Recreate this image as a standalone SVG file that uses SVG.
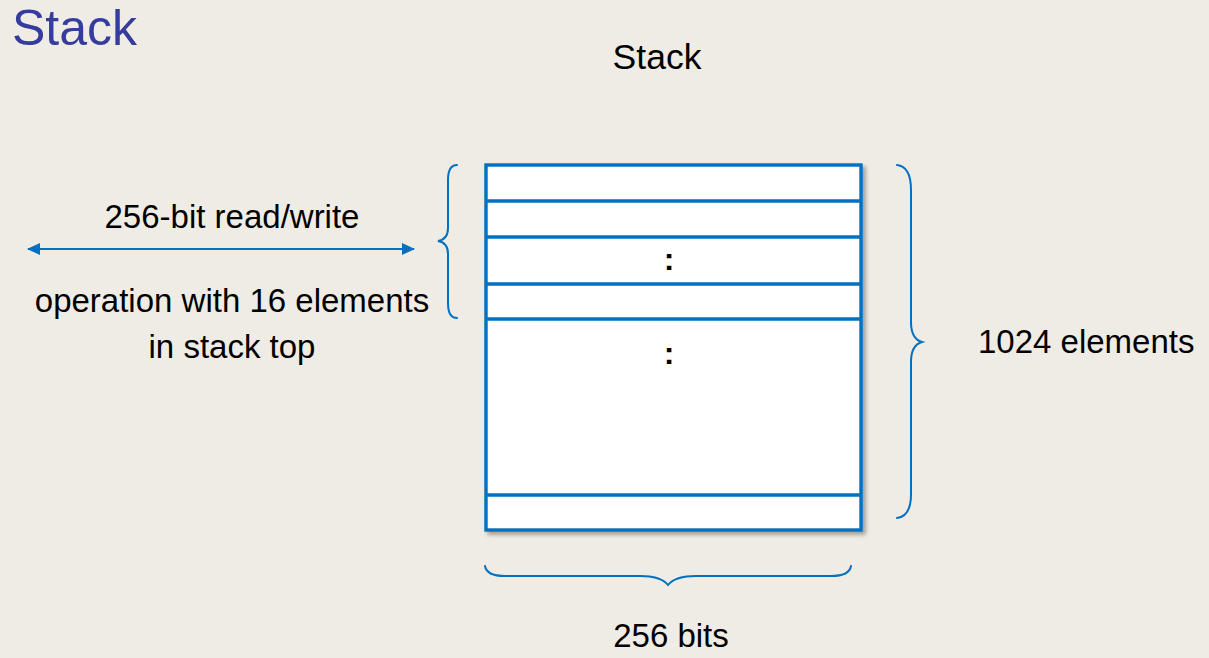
<svg xmlns="http://www.w3.org/2000/svg" width="1209" height="658" viewBox="0 0 1209 658">
<style>
  text { font-family: "Liberation Sans", Arial, sans-serif; fill: #000; }
  .lbl { font-size: 33px; }
  .brace { fill: none; stroke: #0070C0; stroke-width: 2; stroke-linecap: round; }
  .row { stroke: #0070C0; stroke-width: 3.4; }
  .colon { font-size: 32px; font-weight: bold; }
</style>
<defs>
  <filter id="sh" x="-5%" y="-5%" width="115%" height="115%">
    <feGaussianBlur in="SourceAlpha" stdDeviation="2"/>
    <feOffset dx="3" dy="3" result="b"/>
    <feComponentTransfer><feFuncA type="linear" slope="0.35"/></feComponentTransfer>
    <feMerge><feMergeNode/><feMergeNode in="SourceGraphic"/></feMerge>
  </filter>
  <marker id="ah" viewBox="0 0 13 12" refX="12" refY="6" markerWidth="13" markerHeight="12" markerUnits="userSpaceOnUse" orient="auto-start-reverse">
    <path d="M0,0 L13,6 L0,12 Z" fill="#0070C0"/>
  </marker>
</defs>
<rect width="1209" height="658" fill="#EFECE5"/>
<text x="12" y="45" style="font-size:50px; fill:#363C9E;">Stack</text>
<text x="657" y="69" style="font-size:35.5px;" text-anchor="middle">Stack</text>

<g id="stack">
  <rect x="486" y="165" width="375" height="365" fill="#FFFFFF" stroke="#0070C0" stroke-width="3.4" filter="url(#sh)"/>
  <line class="row" x1="486" y1="201" x2="861" y2="201"/>
  <line class="row" x1="486" y1="237" x2="861" y2="237"/>
  <line class="row" x1="486" y1="284" x2="861" y2="284"/>
  <line class="row" x1="486" y1="319" x2="861" y2="319"/>
  <line class="row" x1="486" y1="495" x2="861" y2="495"/>
  <text x="669" y="270" class="colon" text-anchor="middle">:</text>
  <text x="669" y="364" class="colon" text-anchor="middle">:</text>
</g>

<g id="brace-top16">
  <path class="brace" d="M457,165 C451,165 448,170 448,180 L448,228 C448,236 444,240 438,241 C444,242 448,246 448,254 L448,303 C448,313 451,318 457,318"/>
</g>
<g id="brace-1024">
  <path class="brace" d="M897,165 C906,166 911,174 911,190 L911,322 C911,334 915,340 922,342 C915,344 911,350 911,362 L911,494 C911,510 906,517 897,518"/>
</g>
<g id="brace-bits">
  <path class="brace" d="M485,566 C486,572 492,576 505,576 L640,576 C656,576 664,580 668,585 C672,580 680,576 696,576 L831,576 C844,576 850,572 851,566"/>
</g>

<g id="connectors">
  <line x1="28" y1="249" x2="414" y2="249" stroke="#0070C0" stroke-width="2" marker-start="url(#ah)" marker-end="url(#ah)"/>
</g>

<g id="labels">
  <text x="232" y="228" class="lbl" text-anchor="middle">256-bit read/write</text>
  <text x="232" y="312" class="lbl" text-anchor="middle">operation with 16 elements</text>
  <text x="232" y="358" class="lbl" text-anchor="middle">in stack top</text>
  <text x="978" y="353" class="lbl">1024 elements</text>
  <text x="671" y="647" class="lbl" text-anchor="middle">256 bits</text>
</g>
</svg>
